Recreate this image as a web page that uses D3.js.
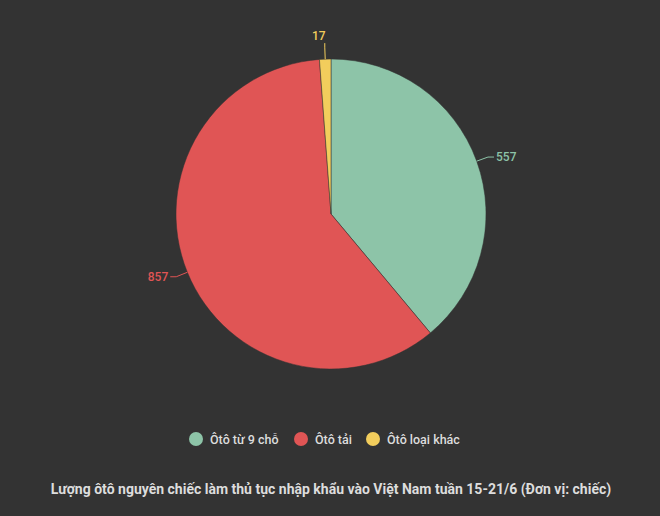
<!DOCTYPE html>
<html><head><meta charset="utf-8">
<script src="https://cdn.jsdelivr.net/npm/d3@7"></script>
<style>body{margin:0;background:#333333;}text{font-family:Roboto,sans-serif;}</style>
</head><body>
<svg id="chart" width="660" height="516"></svg>
<script>
const categories = ["Ôtô từ 9 chỗ", "Ôtô tải", "Ôtô loại khác"];
const values = [557, 857, 17];
const colors = ["#8dc4a8", "#e05555", "#f2cd5c"];
const title = "Lượng ôtô nguyên chiếc làm thủ tục nhập khẩu vào Việt Nam tuần 15-21/6 (Đơn vị: chiếc)";

const svg = d3.select("#chart");
svg.append("rect").attr("width", 660).attr("height", 516).attr("fill", "#333333");

const cx = 331, cy = 214, r = 155;
const g = svg.append("g").attr("transform", "translate(" + cx + "," + cy + ")");
const pie = d3.pie().sort(null).value(d => d)(values);
const arc = d3.arc().innerRadius(0).outerRadius(r);

g.selectAll("path.slice").data(pie).join("path")
    .attr("d", arc)
    .attr("fill", (d, i) => colors[i])
    .attr("stroke", "#333333").attr("stroke-width", 0.5);

// labels with leader lines
const inner = d3.arc().innerRadius(r).outerRadius(r);
const outer = d3.arc().innerRadius(r + 12).outerRadius(r + 12);
pie.forEach((d, i) => {
    const p1 = inner.centroid(d), p2 = outer.centroid(d);
    const right = p2[0] >= 0;
    const small = Math.abs(p2[0]) < 20;
    const p3 = small ? [p2[0], p2[1] - 4] : [p2[0] + (right ? 6 : -6), p2[1]];
    g.append("polyline")
        .attr("points", [p1, p2, p3].map(p => p.join(",")).join(" "))
        .attr("fill", "none").attr("stroke", colors[i]).attr("stroke-width", 1);
    g.append("text")
        .attr("x", small ? p3[0] - 6 : p3[0] + (right ? 2 : -2))
        .attr("y", small ? p3[1] - 3 : p3[1] + 4)
        .attr("text-anchor", small ? "middle" : (right ? "start" : "end"))
        .attr("fill", colors[i]).attr("font-size", 12).attr("font-weight", 500)
        .text(values[i]);
});

// legend
const legendX = [196, 301, 373];
const leg = svg.append("g");
categories.forEach((c, i) => {
    leg.append("circle").attr("cx", legendX[i]).attr("cy", 439).attr("r", 7).attr("fill", colors[i]);
    leg.append("text").attr("x", legendX[i] + 14).attr("y", 443.5)
        .attr("fill", "#dddddd").attr("font-size", 12.5).attr("font-weight", 500).text(c);
});

svg.append("text").attr("x", 331).attr("y", 494).attr("text-anchor", "middle")
    .attr("fill", "#dddddd").attr("font-size", 14).attr("font-weight", "bold").text(title);
</script>
</body></html>
